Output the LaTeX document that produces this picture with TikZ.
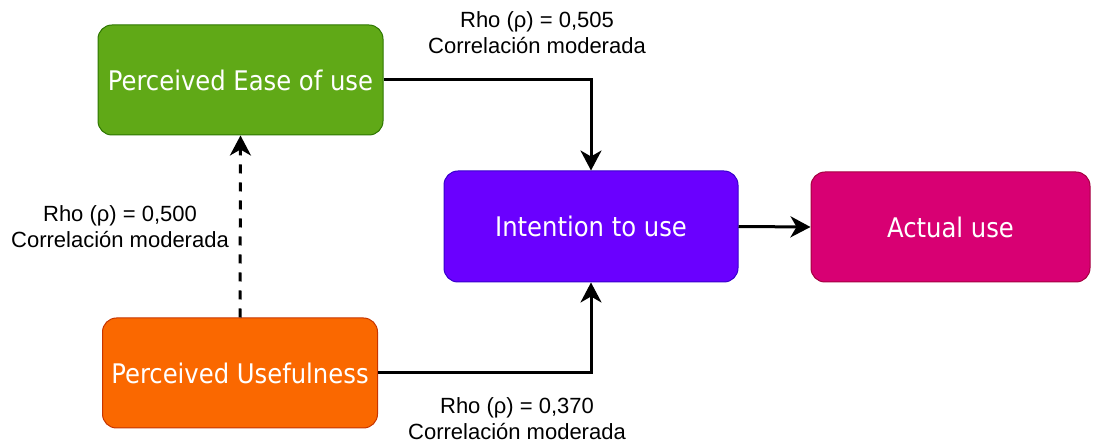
\documentclass[tikz,border=0pt]{standalone}
\usepackage{fontspec}
\setmainfont{Liberation Sans}
\newfontfamily\boxfont{DejaVu Sans Condensed}
\usetikzlibrary{arrows.meta}
\definecolor{cgreen}{HTML}{60A917}
\definecolor{cgreenS}{HTML}{2D7600}
\definecolor{corange}{HTML}{FA6800}
\definecolor{corangeS}{HTML}{C73500}
\definecolor{cblue}{HTML}{6A00FF}
\definecolor{cblueS}{HTML}{3700CC}
\definecolor{cpink}{HTML}{D80073}
\definecolor{cpinkS}{HTML}{A50040}
\tikzset{
  box/.style={rectangle, rounded corners=14pt, line width=1pt, text=white,
    font=\boxfont\fontsize{27}{31}\selectfont, inner sep=0pt, text depth=0pt},
  conn/.style={line width=3pt, -{Stealth[length=20pt,width=21pt,inset=6pt]}},
  lbl/.style={align=center, font=\fontsize{22}{26}\selectfont, inner sep=0pt}
}
\begin{document}
\begin{tikzpicture}[x=1pt,y=-1pt]
\useasboundingbox (0,0) rectangle (1096,443);
\node[box, fill=cgreen, draw=cgreenS, minimum width=285pt, minimum height=110pt] (peou) at (240.5,80) {Perceived Ease of use};
\node[box, fill=corange, draw=corangeS, minimum width=275pt, minimum height=110pt] (pu) at (240,373) {Perceived Usefulness};
\node[box, fill=cblue, draw=cblueS, minimum width=294pt, minimum height=111pt] (itu) at (591,226.5) {Intention to use};
\node[box, fill=cpink, draw=cpinkS, minimum width=279pt, minimum height=110pt] (au) at (950.5,227) {Actual use};
\draw[conn] (peou.east) -| (itu.north);
\draw[conn] (pu.east) -| (itu.south);
\draw[conn, dash pattern=on 9pt off 9pt] (pu.north) -- (peou.south);
\draw[conn] (itu.east) -- (au.west);
\node[lbl] (l1) at (537,33) {Rho (ρ) = 0,505\\Correlación moderada};
\node[lbl] (l2) at (120,227) {Rho (ρ) = 0,500\\Correlación moderada};
\node[lbl] (l3) at (517,419) {Rho (ρ) = 0,370\\Correlación moderada};
\end{tikzpicture}
\end{document}
